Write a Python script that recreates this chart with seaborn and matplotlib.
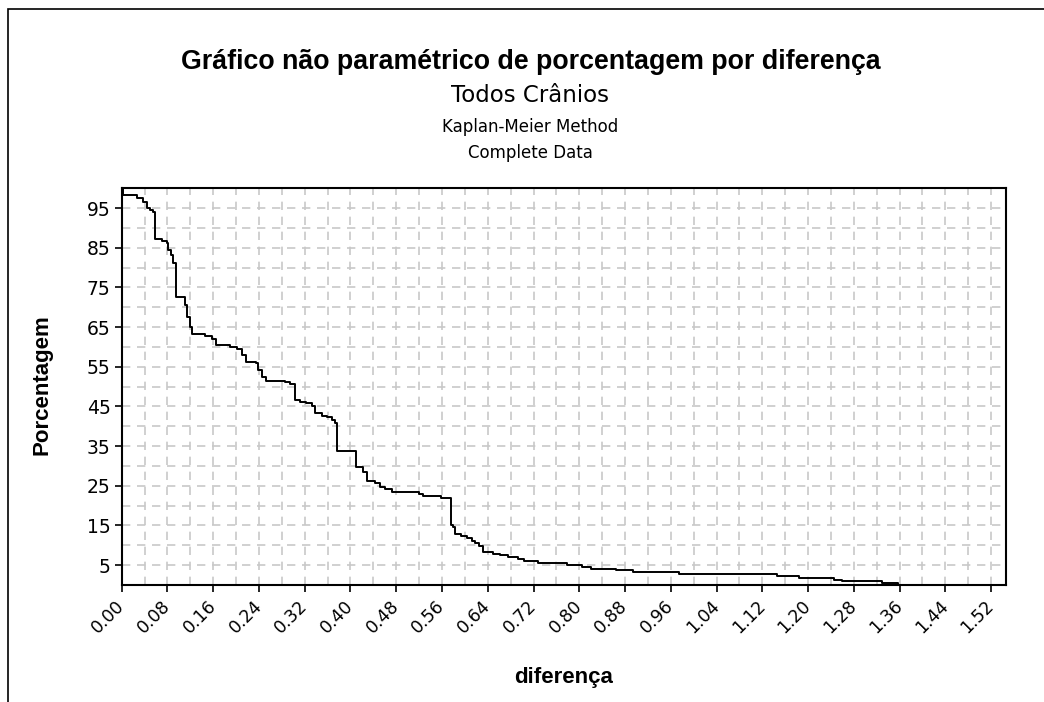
import numpy as np
import pandas as pd
import seaborn as sns
import matplotlib.pyplot as plt
from matplotlib.patches import Rectangle

# Kaplan-Meier steps (value after each step)
diferenca = [0.000, 0.003, 0.026, 0.038, 0.044, 0.049, 0.055, 0.059, 0.071, 0.079,
             0.081, 0.086, 0.090, 0.095, 0.111, 0.115, 0.119, 0.123, 0.146, 0.158,
             0.165, 0.189, 0.201, 0.210, 0.218, 0.235, 0.238, 0.245, 0.252, 0.285,
             0.294, 0.303, 0.312, 0.323, 0.332, 0.338, 0.350, 0.359, 0.367, 0.373,
             0.377, 0.409, 0.422, 0.428, 0.443, 0.452, 0.460, 0.473, 0.519, 0.527,
             0.559, 0.575, 0.579, 0.583, 0.594, 0.603, 0.612, 0.618, 0.625, 0.632,
             0.650, 0.661, 0.676, 0.693, 0.703, 0.728, 0.778, 0.804, 0.820, 0.864,
             0.894, 0.974, 1.145, 1.184, 1.245, 1.259, 1.329, 1.358]
porcentagem = [100.0, 98.3, 97.5, 96.6, 95.0, 94.5, 94.0, 87.1, 86.8, 86.3,
               84.4, 83.2, 81.1, 72.5, 70.6, 67.5, 65.1, 63.3, 62.8, 62.1,
               60.6, 60.1, 59.5, 58.0, 56.3, 55.9, 54.2, 52.4, 51.4, 51.1,
               50.7, 46.6, 46.2, 45.8, 45.1, 43.3, 42.7, 42.3, 41.6, 40.8,
               33.9, 29.8, 28.6, 26.3, 25.6, 24.8, 24.2, 23.5, 22.9, 22.4,
               22.0, 15.1, 14.5, 12.9, 12.4, 11.8, 11.2, 10.5, 9.9, 8.2,
               7.8, 7.6, 7.0, 6.6, 6.0, 5.5, 5.0, 4.6, 4.1, 3.7,
               3.2, 2.7, 2.2, 1.8, 1.3, 0.9, 0.5, 0.0]

x_ticks = np.round(np.arange(0, 1.521, 0.08), 2)
y_ticks = np.arange(5, 96, 10)

df = pd.DataFrame({"diferenca": diferenca, "porcentagem": porcentagem})

sns.set_style("white")
plt.rcParams['font.family'] = ['DejaVu Sans']
plt.rcParams['text.color'] = 'black'
plt.rcParams['xtick.color'] = 'black'
plt.rcParams['ytick.color'] = 'black'
plt.rcParams['axes.labelcolor'] = 'black'

fig = plt.figure(figsize=(10.44, 7.02), dpi=100)
ax = fig.add_axes([121.7 / 1044, 1 - 585 / 702, (1006 - 121.7) / 1044, (585 - 188.3) / 702])

sns.lineplot(data=df, x="diferenca", y="porcentagem", drawstyle="steps-post",
             color="black", linewidth=1.4, estimator=None, sort=False, ax=ax)

ax.set_xlim(0, 1.546)
ax.set_ylim(0, 100)
ax.set_xticks(x_ticks)
ax.set_xticklabels([f"{t:.2f}" for t in x_ticks], rotation=45, ha="right",
                   va="center", rotation_mode="anchor", fontsize=12.5)
ax.set_yticks(y_ticks)
ax.set_yticklabels([str(t) for t in y_ticks], fontsize=13.5)
ax.set_xticks(np.arange(0.04, 1.55, 0.08), minor=True)
ax.set_yticks(np.arange(0, 101, 10), minor=True)
ax.tick_params(which="major", direction="out", length=5, width=1.2, color="black",
               bottom=True, left=True, pad=3)
ax.tick_params(which="minor", length=0)
ax.tick_params(axis="x", which="major", pad=8)
ax.grid(which="both", color="#c8c8c8", linestyle=(0, (5, 4)), linewidth=1.2)
ax.set_axisbelow(True)
for s in ax.spines.values():
    s.set_color("black")
    s.set_linewidth(1.5)

ax.set_xlabel("diferença", fontsize=16, fontweight="bold", family="Liberation Sans")
ax.set_ylabel("Porcentagem", fontsize=16, fontweight="bold", family="Liberation Sans")
ax.xaxis.set_label_coords((564 - 121.7) / (1006 - 121.7), -(667 - 585) / (585 - 188.3))
ax.yaxis.set_label_coords(-(121.7 - 52) / (1006 - 121.7), (585 - 385) / (585 - 188.3))

fig.text(0.508, 1 - 62 / 702, "Gráfico não paramétrico de porcentagem por diferença",
         ha="center", va="center", fontsize=19.3, fontweight="bold", family="Liberation Sans")
fig.text(0.508, 1 - 96 / 702, "Todos Crânios", ha="center", va="center", fontsize=16.5)
fig.text(0.508, 1 - 127 / 702, "Kaplan-Meier Method", ha="center", va="center", fontsize=12)
fig.text(0.508, 1 - 153 / 702, "Complete Data", ha="center", va="center", fontsize=12)

# outer frame
fig.patches.append(Rectangle((8 / 1044, -0.1), 1.2, 1 - 9 / 702 + 0.1,
                             transform=fig.transFigure, fill=False,
                             edgecolor="black", linewidth=1.2))

fig.savefig("out.png", dpi=100, facecolor="white")
